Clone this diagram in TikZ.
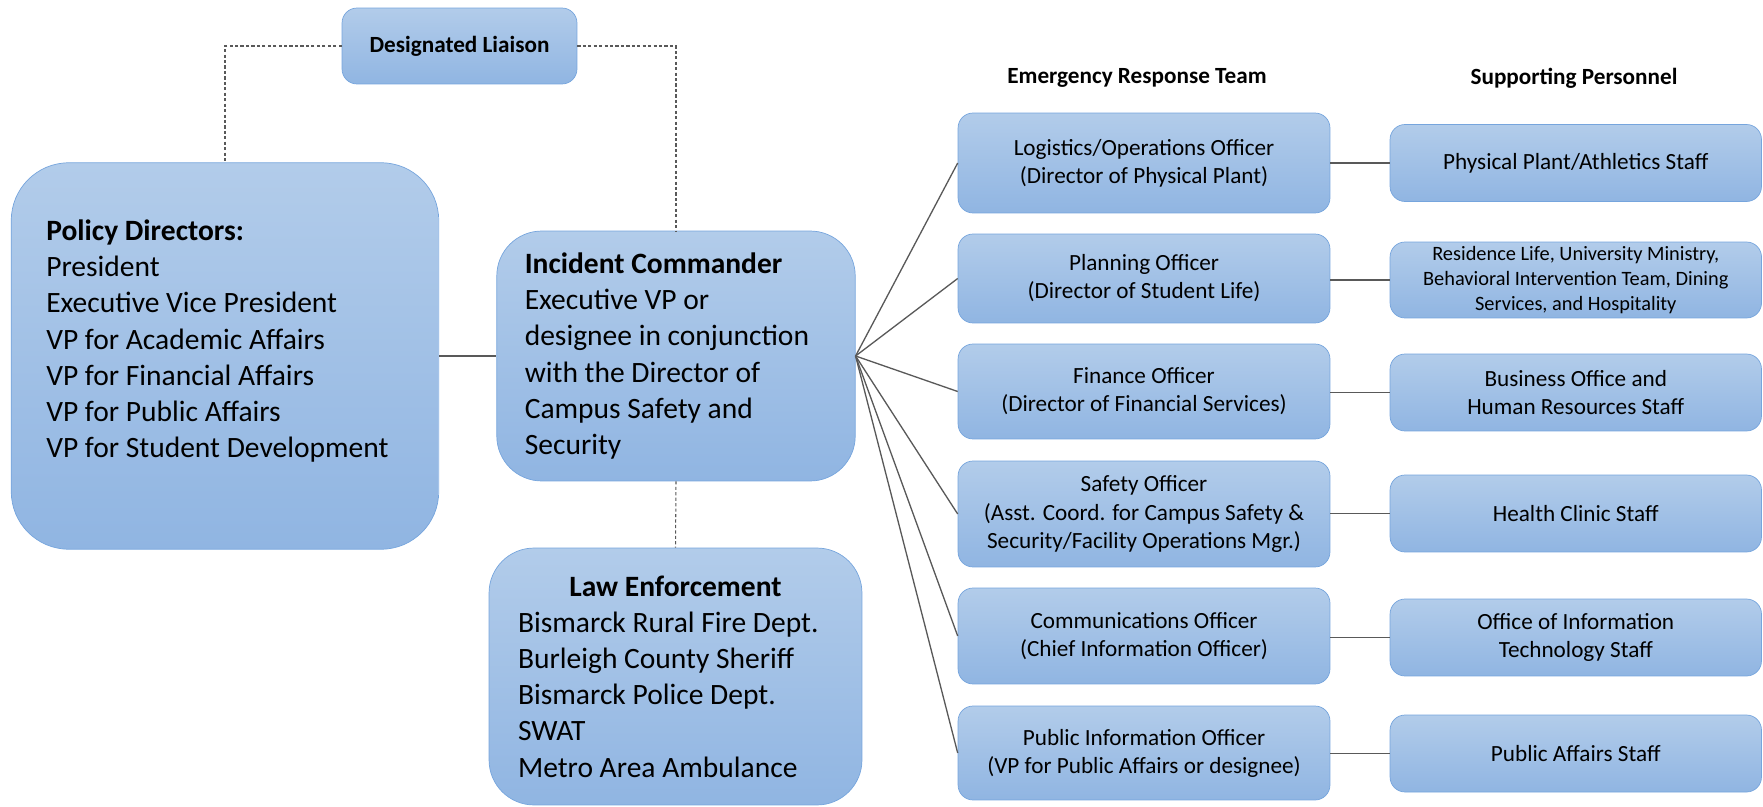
\documentclass[tikz,border=0pt]{standalone}
\usepackage{fontspec}
\setmainfont{Carlito}
\usetikzlibrary{calc}
\definecolor{kasten-oben}{RGB}{178,204,234}
\definecolor{kasten-unten}{RGB}{144,181,226}
\definecolor{kasten-rand}{RGB}{118,165,221}
\definecolor{linie}{RGB}{89,89,89}
\newcommand{\grossschrift}{\fontsize{16.8}{20.6}\selectfont}
\newcommand{\kleinschrift}{\fontsize{13.2}{16}\selectfont}

\begin{document}
\begin{tikzpicture}[x=0.02cm, y=-0.02cm,
    kasten/.style={draw=kasten-rand, thin, top color=kasten-oben, bottom color=kasten-unten, text=black, inner sep=0pt},
    gross/.style={kasten, rounded corners=0.9cm, font=\grossschrift, align=flush left},
    amt/.style={kasten, rounded corners=0.3cm, font=\kleinschrift, align=center, minimum width=7.44cm},
    helfer/.style={kasten, rounded corners=0.3cm, font=\kleinschrift, align=center, minimum width=7.43cm, minimum height=1.54cm},
    kopf/.style={font=\kleinschrift\bfseries, text=black},
    verbindung/.style={linie, line width=0.75pt},
    gestrichelt/.style={linie, line width=0.6pt, dash pattern=on 1.8pt off 1.3pt}]

    \useasboundingbox (0,0) rectangle (1763,807);

    % linke Seite
    \node[kasten, rounded corners=0.3cm, font=\kleinschrift\bfseries, minimum width=4.7cm, minimum height=1.52cm] (liaison) at (459.5,46) {Designated Liaison};

    \node[gross, rounded corners=1.15cm, inner xsep=0.7cm] (policy) at (225,356) {%
      \begin{minipage}[c][7.73cm][t]{7.15cm}\raggedright
      \vspace*{1.14cm}\textbf{Policy Directors:}\\
      President\\
      Executive Vice President\\
      VP for Academic Affairs\\
      VP for Financial Affairs\\
      VP for Public Affairs\\
      VP for Student Development
      \end{minipage}};

    \node[gross, inner xsep=0.56cm, text width=6.05cm, minimum height=5cm] (ic) at (676,356) {\textbf{Incident Commander}\\
      Executive VP or\\
      designee in conjunction\\
      with the Director of\\
      Campus Safety and\\
      Security};

    \node[gross, inner xsep=0.58cm, text width=6.3cm, minimum height=5.14cm] (law) at (675.5,676.5) {\makebox[6.3cm]{\textbf{Law Enforcement}}\\
      Bismarck Rural Fire Dept.\\
      Burleigh County Sheriff\\
      Bismarck Police Dept.\\
      SWAT\\
      Metro Area Ambulance};

    % Ueberschriften
    \node[kopf] (ert-kopf) at (1137,78) {Emergency Response Team};
    \node[kopf] (sp-kopf) at (1574,78) {Supporting Personnel};

    % Emergency Response Team
    \node[amt, minimum height=2cm] (ert1) at (1144,163) {Logistics/Operations Officer\\(Director of Physical Plant)};
    \node[amt, minimum height=1.78cm] (ert2) at (1144,278.5) {Planning Officer\\(Director of Student Life)};
    \node[amt, minimum height=1.9cm] (ert3) at (1144,391.5) {Finance Officer\\(Director of Financial Services)};
    \node[amt, minimum height=2.12cm] (ert4) at (1144,514) {Safety Officer\\(Asst. Coord. for Campus Safety \&\\Security/Facility Operations Mgr.)};
    \node[amt, minimum height=1.92cm] (ert5) at (1144,636) {Communications Officer\\(Chief Information Officer)};
    \node[amt, minimum height=1.88cm] (ert6) at (1144,753) {Public Information Officer\\(VP for Public Affairs or designee)};

    % Supporting Personnel
    \node[helfer] (sp1) at (1575.75,163) {Physical Plant/Athletics Staff};
    \node[helfer, minimum height=1.52cm, font=\fontsize{11.6}{14.2}\selectfont] (sp2) at (1575.75,280) {Residence Life, University Ministry,\\Behavioral Intervention Team, Dining\\Services, and Hospitality};
    \node[helfer] (sp3) at (1575.75,392.5) {Business Office and\\Human Resources Staff};
    \node[helfer] (sp4) at (1575.75,513.5) {Health Clinic Staff};
    \node[helfer] (sp5) at (1575.75,637.5) {Office of Information\\Technology Staff};
    \node[helfer] (sp6) at (1575.75,753.5) {Public Affairs Staff};

    % Verbindungen
    \draw[verbindung] (policy.east) -- (ic.west);
    \draw[gestrichelt] (liaison.west) -| (policy.north);
    \draw[gestrichelt] (liaison.east) -| (ic.north);
    \draw[gestrichelt] (ic.south) -- (law.north);

    \foreach \i in {1,...,6} {
        \draw[verbindung] (ic.east) -- (ert\i.west);
        \draw[verbindung] (ert\i.east |- sp\i.west) -- (sp\i.west);
    }

\end{tikzpicture}
\end{document}
